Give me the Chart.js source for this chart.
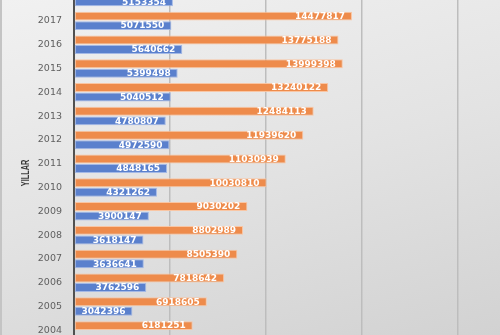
<!DOCTYPE html>
<html>
<head>
<meta charset="utf-8">
<script src="https://cdn.jsdelivr.net/npm/chart.js@4/dist/chart.umd.min.js"></script>
<style>
  html, body { margin: 0; padding: 0; }
  body {
    width: 500px; height: 335px; overflow: hidden; position: relative;
    background: linear-gradient(165deg, #f1f1f1 0%, #e3e3e3 50%, #d2d2d2 100%);
  }
  #edge { position: absolute; left: 0; top: 0; width: 2px; height: 335px; background: #c4c4c4; }
  #wrap { position: absolute; left: 0; top: -40px; width: 570px; height: 400px; }
</style>
</head>
<body>
<div id="wrap"><canvas id="c" width="570" height="400"></canvas></div>
<div id="edge"></div>
<script>
// Years, newest at the top
const years = ['2018', '2017', '2016', '2015', '2014', '2013', '2012', '2011', '2010', '2009', '2008', '2007', '2006', '2005', '2004'];
// Orange series (upper bar of each year)
const orangeValues = [null, 14477817, 13775188, 13999398, 13240122, 12484113, 11939620, 11030939, 10030810, 9030202, 8802989, 8505390, 7818642, 6918605, 6181251];
// Blue series (lower bar of each year)
const blueValues = [5153354, 5071550, 5640662, 5399498, 5040512, 4780807, 4972590, 4848165, 4321262, 3900147, 3618147, 3636641, 3762596, 3042396, null];
const axisTitle = 'YILLAR';
const xMax = 25000000;
const xStep = 5000000;

// White value labels drawn inside the end of each bar
const barLabels = {
  id: 'barLabels',
  afterDatasetsDraw(chart) {
    const ctx = chart.ctx;
    ctx.save();
    ctx.font = 'bold 9px "DejaVu Sans"';
    ctx.fillStyle = '#ffffff';
    ctx.textAlign = 'right';
    ctx.textBaseline = 'middle';
    chart.data.datasets.forEach((ds, i) => {
      chart.getDatasetMeta(i).data.forEach((el, j) => {
        const v = ds.data[j];
        if (v == null) return;
        ctx.fillText(String(v), el.x - 7, el.y + 0.5);
      });
    });
    ctx.restore();
  }
};

// Rotated, condensed axis title on the left
const sideTitle = {
  id: 'sideTitle',
  afterDraw(chart) {
    const ctx = chart.ctx;
    ctx.save();
    ctx.translate(26, 213);
    ctx.rotate(-Math.PI / 2);
    ctx.scale(0.7, 1);
    ctx.font = 'bold 10.5px "Liberation Sans Narrow", "Liberation Sans"';
    ctx.fillStyle = '#3a3a3a';
    ctx.textAlign = 'center';
    ctx.textBaseline = 'middle';
    ctx.fillText(axisTitle, 0, 0);
    ctx.restore();
  }
};

new Chart(document.getElementById('c'), {
  type: 'bar',
  data: {
    labels: years,
    datasets: [
      {
        data: orangeValues,
        backgroundColor: '#ee8b4b',
        borderColor: 'rgba(250,196,160,0.95)',
        borderWidth: 1,
        borderSkipped: false,
        categoryPercentage: 0.8,
        barPercentage: 0.94
      },
      {
        data: blueValues,
        backgroundColor: '#5a80cd',
        borderColor: 'rgba(160,182,230,0.95)',
        borderWidth: 1,
        borderSkipped: false,
        categoryPercentage: 0.8,
        barPercentage: 0.94
      }
    ]
  },
  options: {
    indexAxis: 'y',
    responsive: false,
    animation: false,
    devicePixelRatio: 1,
    layout: { padding: { top: 25.15, bottom: 13.35, left: 0, right: 16 } },
    plugins: { legend: { display: false }, tooltip: { enabled: false } },
    scales: {
      x: {
        min: 0, max: xMax,
        ticks: { display: false, stepSize: xStep },
        grid: { color: '#bdbdbd', lineWidth: 1.5, drawTicks: false },
        border: { display: false },
        afterFit(scale) { scale.height = 0; }
      },
      y: {
        grid: { display: false, drawTicks: false },
        border: { display: true, color: '#505050', width: 2 },
        ticks: {
          color: '#5f5f5f',
          padding: 12,
          font: { family: '"DejaVu Sans"', size: 9.5 }
        },
        afterFit(scale) { scale.width = 74; }
      }
    }
  },
  plugins: [barLabels, sideTitle]
});
</script>
</body>
</html>
